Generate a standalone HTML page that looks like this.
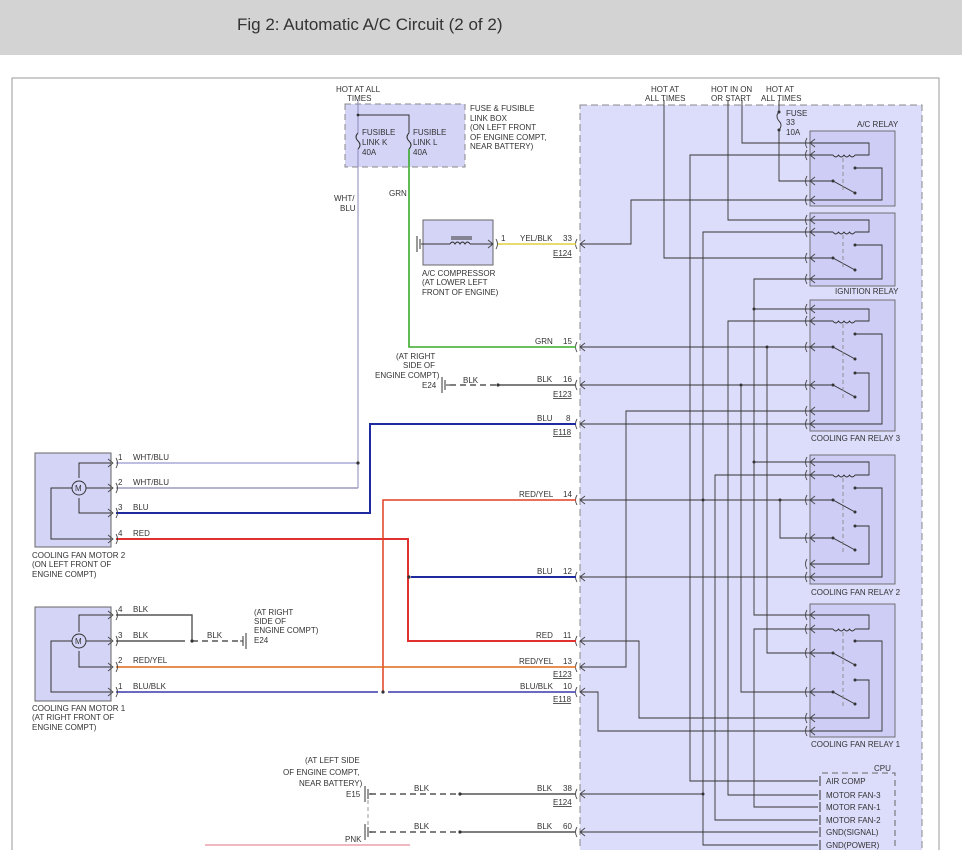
<!DOCTYPE html>
<html><head><meta charset="utf-8"><style>
body{margin:0;width:962px;height:850px;overflow:hidden;background:#fff;font-family:"Liberation Sans",sans-serif}
.hdr{position:absolute;left:0;top:0;width:962px;height:55px;background:#d3d3d3}
.hdr span{position:absolute;left:237px;top:15px;font-size:17px;color:#333}
svg{position:absolute;left:0;top:0}
text{font-family:"Liberation Sans",sans-serif;font-size:8px;fill:#333}
</style></head><body>
<div class="hdr"><span>Fig 2: Automatic A/C Circuit (2 of 2)</span></div>
<svg width="962" height="850" viewBox="0 0 962 850">
<defs>
<g id="pc" fill="none" stroke="#444" stroke-width="0.9"><path d="M-3,-5 q-3,5 0,10"/><path d="M5,-4 L0,0 L5,4"/></g>
<g id="pr" fill="none" stroke="#444" stroke-width="0.9"><path d="M-5,-4 L0,0 L-5,4"/><path d="M3,-5 q3,5 0,10"/></g>
<g id="coil" fill="none" stroke="#333" stroke-width="0.9"><path d="M0,0 q2.75,4 5.5,0 q2.75,4 5.5,0 q2.75,4 5.5,0 q2.75,4 5.5,0"/></g>
</defs>
<!-- outer frame -->
<path d="M12,850 V78 H939 V850" fill="none" stroke="#999" stroke-width="1"/>
<!-- big box -->
<rect x="580" y="105" width="342" height="760" fill="#dcdcfb" stroke="#888" stroke-dasharray="7,4"/>
<!-- relay boxes -->
<g fill="#cdcdf5" stroke="#666" stroke-width="0.9">
<rect x="810" y="131" width="85" height="75"/>
<rect x="810" y="213" width="85" height="73"/>
<rect x="810" y="300" width="85" height="131"/>
<rect x="810" y="455" width="85" height="129"/>
<rect x="810" y="604" width="85" height="133"/>
</g>
<path d="M822,773 H895 V850" fill="none" stroke="#666" stroke-dasharray="6,4"/>
<g fill="none" stroke="#333" stroke-width="0.9">
<!-- A/C relay -->
<path d="M810,143 H869 V155 H855 M810,155 H833 M810,181 H833 L855,193 M855,168 H882 V200 H810"/>
<path d="M843,158 V193" stroke-dasharray="4,3" stroke="#888"/>
<!-- Ignition -->
<path d="M810,220 H869 V232 H855 M810,232 H833 M810,258 H833 L855,270 M855,245 H882 V279 H810"/>
<path d="M843,235 V270" stroke-dasharray="4,3" stroke="#888"/>
<!-- CFR3 -->
<path d="M810,309 H869 V321 H855 M810,321 H833 M810,347 H833 L855,359 M855,334 H882 V424 H810 M810,385 H833 L855,397 M855,373 H869 V411 H810"/>
<path d="M843,324 V400" stroke-dasharray="4,3" stroke="#888"/>
<!-- CFR2 -->
<path d="M810,462 H869 V475 H855 M810,475 H833 M810,500 H833 L855,512 M855,488 H882 V577 H810 M810,538 H833 L855,550 M855,526 H869 V564 H810"/>
<path d="M843,478 V553" stroke-dasharray="4,3" stroke="#888"/>
<!-- CFR1 -->
<path d="M810,615 H869 V629 H855 M810,629 H833 M810,653 H833 L855,665 M855,641 H882 V731 H810 M810,692 H833 L855,704 M855,680 H869 V718 H810"/>
<path d="M843,632 V707" stroke-dasharray="4,3" stroke="#888"/>
<!-- internal wiring -->
<path d="M664,100 V258 H810"/>
<path d="M728,100 V220 H810"/>
<path d="M742,100 V143 H810"/>
<path d="M779,100 V112 M779,130 V181 H810"/>
<path d="M810,155 H690 V781 H818"/>
<path d="M810,200 H631 V244 H580"/>
<path d="M810,232 H703 V845 H818"/>
<path d="M810,279 H754 V615 H810"/>
<path d="M810,321 H728 V795 H818"/>
<path d="M810,347 H580 M767,347 V653 H810"/>
<path d="M810,385 H580 M741,385 V692 H810"/>
<path d="M810,411 H626 V667 H580"/>
<path d="M810,424 H580"/>
<path d="M810,475 H715 V820 H818"/>
<path d="M810,500 H580 M780,500 V538 H810"/>
<path d="M810,577 H580"/>
<path d="M810,629 H754 V807 H818"/>
<path d="M810,718 H639 V641 H580"/>
<path d="M810,731 H598 V692 H580"/>
<path d="M580,794 H703"/>
<path d="M580,832 H818"/>
<path d="M779,112 q-4,4 0,9 q4,4 0,9"/>
</g>
<g fill="#333">
<circle cx="779" cy="112" r="1.5"/><circle cx="779" cy="130" r="1.5"/>
<circle cx="833" cy="181" r="1.5"/><circle cx="855" cy="193" r="1.5"/><circle cx="855" cy="168" r="1.5"/>
<circle cx="833" cy="258" r="1.5"/><circle cx="855" cy="270" r="1.5"/><circle cx="855" cy="245" r="1.5"/>
<circle cx="833" cy="347" r="1.5"/><circle cx="855" cy="359" r="1.5"/><circle cx="855" cy="334" r="1.5"/>
<circle cx="833" cy="385" r="1.5"/><circle cx="855" cy="397" r="1.5"/><circle cx="855" cy="373" r="1.5"/>
<circle cx="833" cy="500" r="1.5"/><circle cx="855" cy="512" r="1.5"/><circle cx="855" cy="488" r="1.5"/>
<circle cx="833" cy="538" r="1.5"/><circle cx="855" cy="550" r="1.5"/><circle cx="855" cy="526" r="1.5"/>
<circle cx="833" cy="653" r="1.5"/><circle cx="855" cy="665" r="1.5"/><circle cx="855" cy="641" r="1.5"/>
<circle cx="833" cy="692" r="1.5"/><circle cx="855" cy="704" r="1.5"/><circle cx="855" cy="680" r="1.5"/>
<circle cx="754" cy="309" r="1.5"/><circle cx="754" cy="462" r="1.5"/><circle cx="767" cy="347" r="1.5"/><circle cx="741" cy="385" r="1.5"/>
<circle cx="703" cy="500" r="1.5"/><circle cx="780" cy="500" r="1.5"/><circle cx="703" cy="794" r="1.5"/>
</g>
<path d="M754,309 H810 M754,462 H810" stroke="#333" stroke-width="0.9"/>
<use href="#coil" x="833" y="155"/><use href="#coil" x="833" y="232"/><use href="#coil" x="833" y="321"/><use href="#coil" x="833" y="475"/><use href="#coil" x="833" y="629"/>
<!-- relay pin connectors -->
<g>
<use href="#pc" x="810" y="143"/><use href="#pc" x="810" y="155"/><use href="#pc" x="810" y="181"/><use href="#pc" x="810" y="200"/>
<use href="#pc" x="810" y="220"/><use href="#pc" x="810" y="232"/><use href="#pc" x="810" y="258"/><use href="#pc" x="810" y="279"/>
<use href="#pc" x="810" y="309"/><use href="#pc" x="810" y="321"/><use href="#pc" x="810" y="347"/><use href="#pc" x="810" y="385"/><use href="#pc" x="810" y="411"/><use href="#pc" x="810" y="424"/>
<use href="#pc" x="810" y="462"/><use href="#pc" x="810" y="475"/><use href="#pc" x="810" y="500"/><use href="#pc" x="810" y="538"/><use href="#pc" x="810" y="564"/><use href="#pc" x="810" y="577"/>
<use href="#pc" x="810" y="615"/><use href="#pc" x="810" y="629"/><use href="#pc" x="810" y="653"/><use href="#pc" x="810" y="692"/><use href="#pc" x="810" y="718"/><use href="#pc" x="810" y="731"/>
<use href="#pc" x="580" y="244"/><use href="#pc" x="580" y="347"/><use href="#pc" x="580" y="385"/><use href="#pc" x="580" y="424"/><use href="#pc" x="580" y="500"/><use href="#pc" x="580" y="577"/><use href="#pc" x="580" y="641"/><use href="#pc" x="580" y="667"/><use href="#pc" x="580" y="692"/><use href="#pc" x="580" y="794"/><use href="#pc" x="580" y="832"/>
</g>
<path d="M820,776 V786 M820,790 V800 M820,802 V812 M820,815 V825 M820,827 V837 M820,840 V850" stroke="#333"/>
<!-- fusible link box -->
<rect x="345" y="104" width="120" height="63" fill="#d4d4f7" stroke="#888" stroke-dasharray="6,4"/>
<g fill="none" stroke-width="1">
<path d="M358,100 V133 M358,149 V488" stroke="#8888b8"/>
<path d="M358,115 H409 V133" stroke="#333"/>
<path d="M358,133 q-4,4 0,8 q4,4 0,8 M409,133 q-4,4 0,8 q4,4 0,8" stroke="#333"/>
<path d="M409,149 V347 H576" stroke="#3aaa2a" stroke-width="1.6"/>
<path d="M358,463 H116" stroke="#a8a8d8" stroke-width="1.5"/>
<path d="M358,488 H116" stroke="#8888b0" stroke-width="1.2"/>
<path d="M576,424 H370 V513 H116" stroke="#1e2aa0" stroke-width="2"/>
<path d="M116,539 H408 V641 H576" stroke="#e03030" stroke-width="2"/>
<path d="M411,577 H576" stroke="#1e2aa0" stroke-width="2"/>
<path d="M576,500 H383 V692" stroke="#e04020" stroke-width="1.5"/>
<path d="M116,667 H576" stroke="#e06818" stroke-width="1.5"/>
<path d="M116,692 H378 M388,692 H576" stroke="#5555b5" stroke-width="1.8"/>
<path d="M498,244 H576" stroke="#e0d040" stroke-width="1.6"/>
<path d="M116,615 H192 V641 M116,641 H185" stroke="#555" stroke-width="1.4"/>
<path d="M192,641 H240 M450,385 H498 M370,794 H460 M370,832 H460" stroke="#555" stroke-width="1.4" stroke-dasharray="6,4"/>
<path d="M368,800 V828" stroke="#999" stroke-dasharray="4,3"/>
<path d="M498,385 H576 M460,794 H576 M460,832 H576" stroke="#555" stroke-width="1.4"/>
<path d="M205,845 H410" stroke="#e07080" stroke-width="1"/>
</g>
<g fill="#333">
<circle cx="358" cy="463" r="1.6"/><circle cx="409" cy="577" r="1.6"/><circle cx="383" cy="692" r="1.6"/><circle cx="192" cy="641" r="1.6"/><circle cx="498" cy="385" r="1.6"/><circle cx="460" cy="794" r="1.6"/><circle cx="460" cy="832" r="1.6"/><circle cx="358" cy="115" r="1.4"/>
</g>
<!-- grounds -->
<g stroke="#333" fill="none">
<path d="M243,636 V646 M246,633 V649 M240,641 H243"/>
<path d="M445,380 V390 M442,377 V393 M446,385 H450"/>
<path d="M368,789 V799 M365,786 V802 M369,794 H372"/>
<path d="M368,827 V837 M365,824 V840 M369,832 H372"/>
<path d="M420,239 V249 M417,236 V252"/>
</g>
<!-- A/C compressor -->
<rect x="423" y="220" width="70" height="45" fill="#d4d4f7" stroke="#666"/>
<path d="M421,244 H450 M470,244 H493 M450,244 q2.5,-4 5,0 q2.5,-4 5,0 q2.5,-4 5,0 q2.5,-4 5,0 M451,237 H472 M451,239 H472" stroke="#333" fill="none"/>
<use href="#pr" x="493" y="244"/>
<!-- motors -->
<rect x="35" y="453" width="76" height="94" fill="#d4d4f7" stroke="#666"/>
<rect x="35" y="607" width="76" height="94" fill="#d4d4f7" stroke="#666"/>
<g fill="none" stroke="#333">
<path d="M79,478 V463 H111 M86,488 H111 M79,498 V513 H111 M72,488 H51 V539 H111"/>
<circle cx="79" cy="488" r="7"/>
<path d="M79,632 V615 H111 M86,641 H111 M79,651 V667 H111 M72,641 H51 V692 H111"/>
<circle cx="79" cy="641" r="7"/>
</g>
<text x="75" y="491">M</text><text x="75" y="644">M</text>
<use href="#pr" x="113" y="463"/><use href="#pr" x="113" y="488"/><use href="#pr" x="113" y="513"/><use href="#pr" x="113" y="539"/>
<use href="#pr" x="113" y="615"/><use href="#pr" x="113" y="641"/><use href="#pr" x="113" y="667"/><use href="#pr" x="113" y="692"/>
<!-- texts -->
<text x="336" y="92">HOT AT ALL</text><text x="347" y="101">TIMES</text>
<text x="470" y="111">FUSE &amp; FUSIBLE</text><text x="470" y="121">LINK BOX</text><text x="470" y="130">(ON LEFT FRONT</text><text x="470" y="140">OF ENGINE COMPT,</text><text x="470" y="149">NEAR BATTERY)</text>
<text x="362" y="135">FUSIBLE</text><text x="362" y="145">LINK K</text><text x="362" y="155">40A</text>
<text x="413" y="135">FUSIBLE</text><text x="413" y="145">LINK L</text><text x="413" y="155">40A</text>
<text x="334" y="201">WHT/</text><text x="340" y="211">BLU</text><text x="389" y="196">GRN</text>
<text x="501" y="241">1</text><text x="520" y="241">YEL/BLK</text><text x="563" y="241">33</text><text x="553" y="256" text-decoration="underline">E124</text>
<text x="422" y="276">A/C COMPRESSOR</text><text x="422" y="285">(AT LOWER LEFT</text><text x="422" y="295">FRONT OF ENGINE)</text>
<text x="396" y="359">(AT RIGHT</text><text x="403" y="368">SIDE OF</text><text x="375" y="378">ENGINE COMPT)</text>
<text x="422" y="388">E24</text><text x="463" y="383">BLK</text>
<text x="535" y="344">GRN</text><text x="563" y="344">15</text>
<text x="537" y="382">BLK</text><text x="563" y="382">16</text><text x="553" y="397" text-decoration="underline">E123</text>
<text x="537" y="421">BLU</text><text x="566" y="421">8</text><text x="553" y="435" text-decoration="underline">E118</text>
<text x="519" y="497">RED/YEL</text><text x="563" y="497">14</text>
<text x="537" y="574">BLU</text><text x="563" y="574">12</text>
<text x="536" y="638">RED</text><text x="563" y="638">11</text>
<text x="519" y="664">RED/YEL</text><text x="563" y="664">13</text><text x="553" y="677" text-decoration="underline">E123</text>
<text x="520" y="689">BLU/BLK</text><text x="563" y="689">10</text><text x="553" y="702" text-decoration="underline">E118</text>
<text x="537" y="791">BLK</text><text x="563" y="791">38</text><text x="553" y="805" text-decoration="underline">E124</text>
<text x="537" y="829">BLK</text><text x="563" y="829">60</text>
<text x="414" y="791">BLK</text><text x="414" y="829">BLK</text>
<text x="305" y="763">(AT LEFT SIDE</text><text x="283" y="775">OF ENGINE COMPT,</text><text x="299" y="786">NEAR BATTERY)</text>
<text x="346" y="797">E15</text><text x="345" y="842">PNK</text>
<text x="118" y="460">1</text><text x="133" y="460">WHT/BLU</text>
<text x="118" y="485">2</text><text x="133" y="485">WHT/BLU</text>
<text x="118" y="510">3</text><text x="133" y="510">BLU</text>
<text x="118" y="536">4</text><text x="133" y="536">RED</text>
<text x="32" y="558">COOLING FAN MOTOR 2</text><text x="32" y="567">(ON LEFT FRONT OF</text><text x="32" y="577">ENGINE COMPT)</text>
<text x="118" y="612">4</text><text x="133" y="612">BLK</text>
<text x="118" y="638">3</text><text x="133" y="638">BLK</text><text x="207" y="638">BLK</text>
<text x="118" y="663">2</text><text x="133" y="663">RED/YEL</text>
<text x="118" y="689">1</text><text x="133" y="689">BLU/BLK</text>
<text x="254" y="615">(AT RIGHT</text><text x="254" y="624">SIDE OF</text><text x="254" y="633">ENGINE COMPT)</text><text x="254" y="643">E24</text>
<text x="32" y="711">COOLING FAN MOTOR 1</text><text x="32" y="720">(AT RIGHT FRONT OF</text><text x="32" y="730">ENGINE COMPT)</text>
<text x="651" y="92">HOT AT</text><text x="645" y="101">ALL TIMES</text>
<text x="711" y="92">HOT IN ON</text><text x="711" y="101">OR START</text>
<text x="766" y="92">HOT AT</text><text x="761" y="101">ALL TIMES</text>
<text x="786" y="116">FUSE</text><text x="786" y="125">33</text><text x="786" y="135">10A</text>
<text x="857" y="127">A/C RELAY</text>
<text x="835" y="294">IGNITION RELAY</text>
<text x="811" y="441">COOLING FAN RELAY 3</text>
<text x="811" y="595">COOLING FAN RELAY 2</text>
<text x="811" y="747">COOLING FAN RELAY 1</text>
<text x="874" y="771">CPU</text>
<text x="826" y="784">AIR COMP</text><text x="826" y="798">MOTOR FAN-3</text><text x="826" y="810">MOTOR FAN-1</text><text x="826" y="823">MOTOR FAN-2</text><text x="826" y="835">GND(SIGNAL)</text><text x="826" y="848">GND(POWER)</text>
</svg>
</body></html>
